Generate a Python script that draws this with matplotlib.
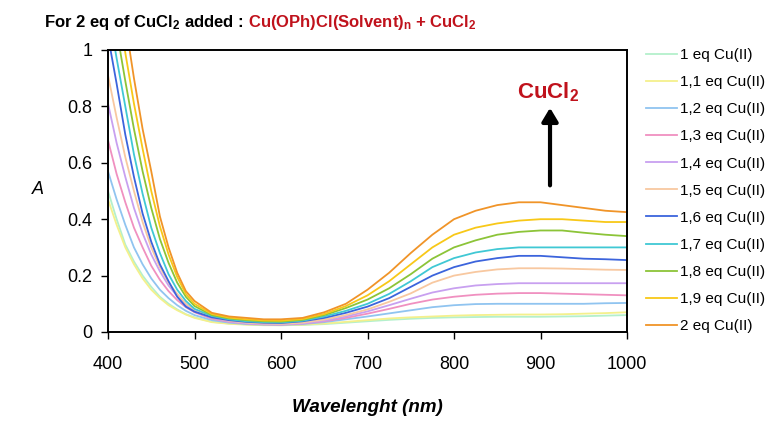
import numpy as np
import matplotlib
matplotlib.use("Agg")
import matplotlib.pyplot as plt

plt.rcParams['font.family'] = ['Liberation Sans', 'DejaVu Sans']
plt.rcParams['mathtext.fontset'] = 'custom'
plt.rcParams['mathtext.rm'] = 'Liberation Sans'
plt.rcParams['mathtext.bf'] = 'Liberation Sans:bold'
plt.rcParams['mathtext.it'] = 'Liberation Sans:italic'

# Longueurs d'onde (nm)
wavelength = [400, 410, 420, 430, 440, 450, 460, 470, 480, 490, 500, 520, 540, 560, 580, 600,
              625, 650, 675, 700, 725, 750, 775, 800, 825, 850, 875, 900, 925, 950, 975, 1000]

# Absorbance, une liste par ajout de Cu(II)
A_1_0 = [0.50, 0.40, 0.31, 0.25, 0.20, 0.16, 0.125, 0.10, 0.08, 0.063, 0.052, 0.036, 0.030, 0.027, 0.025, 0.024,
         0.025, 0.028, 0.033, 0.038, 0.043, 0.047, 0.050, 0.052, 0.053, 0.054, 0.054, 0.054, 0.055, 0.056, 0.058, 0.060]
A_1_1 = [0.47, 0.38, 0.30, 0.24, 0.19, 0.15, 0.12, 0.095, 0.077, 0.062, 0.050, 0.035, 0.029, 0.026, 0.024, 0.024,
         0.026, 0.030, 0.036, 0.042, 0.048, 0.052, 0.055, 0.058, 0.060, 0.061, 0.062, 0.062, 0.063, 0.065, 0.067, 0.070]
A_1_2 = [0.57, 0.47, 0.38, 0.30, 0.24, 0.19, 0.15, 0.12, 0.095, 0.075, 0.060, 0.042, 0.033, 0.028, 0.026, 0.025,
         0.028, 0.035, 0.045, 0.055, 0.066, 0.077, 0.088, 0.095, 0.099, 0.100, 0.100, 0.100, 0.100, 0.100, 0.102, 0.103]
A_1_3 = [0.68, 0.56, 0.46, 0.37, 0.30, 0.235, 0.185, 0.145, 0.113, 0.088, 0.070, 0.047, 0.036, 0.030, 0.027, 0.026,
         0.030, 0.038, 0.050, 0.065, 0.082, 0.100, 0.115, 0.125, 0.132, 0.136, 0.138, 0.138, 0.136, 0.134, 0.132, 0.130]
A_1_4 = [0.81, 0.67, 0.55, 0.44, 0.35, 0.275, 0.215, 0.165, 0.127, 0.097, 0.076, 0.050, 0.038, 0.031, 0.028, 0.027,
         0.031, 0.040, 0.055, 0.073, 0.095, 0.118, 0.140, 0.155, 0.165, 0.170, 0.173, 0.173, 0.173, 0.173, 0.173, 0.173]
A_1_5 = [0.91, 0.76, 0.62, 0.50, 0.39, 0.30, 0.23, 0.175, 0.135, 0.10, 0.080, 0.053, 0.040, 0.033, 0.030, 0.029,
         0.033, 0.044, 0.060, 0.080, 0.107, 0.137, 0.175, 0.200, 0.213, 0.222, 0.226, 0.226, 0.225, 0.223, 0.221, 0.220]
A_1_6 = [1.05, 0.88, 0.70, 0.55, 0.42, 0.32, 0.24, 0.18, 0.125, 0.09, 0.072, 0.052, 0.042, 0.036, 0.033, 0.032,
         0.038, 0.050, 0.068, 0.090, 0.120, 0.160, 0.200, 0.230, 0.250, 0.262, 0.270, 0.270, 0.265, 0.260, 0.258, 0.255]
A_1_7 = [1.15, 0.97, 0.80, 0.63, 0.49, 0.37, 0.28, 0.205, 0.15, 0.11, 0.082, 0.057, 0.045, 0.038, 0.035, 0.034,
         0.040, 0.055, 0.075, 0.100, 0.135, 0.180, 0.230, 0.262, 0.282, 0.294, 0.300, 0.300, 0.300, 0.300, 0.300, 0.300]
A_1_8 = [1.25, 1.07, 0.89, 0.72, 0.57, 0.44, 0.33, 0.245, 0.175, 0.125, 0.092, 0.060, 0.048, 0.042, 0.038, 0.037,
         0.043, 0.060, 0.085, 0.115, 0.155, 0.205, 0.260, 0.300, 0.325, 0.345, 0.355, 0.360, 0.360, 0.352, 0.345, 0.340]
A_1_9 = [1.38, 1.18, 0.99, 0.81, 0.65, 0.50, 0.375, 0.275, 0.195, 0.135, 0.100, 0.064, 0.051, 0.045, 0.041, 0.040,
         0.046, 0.064, 0.092, 0.130, 0.180, 0.240, 0.300, 0.345, 0.370, 0.385, 0.395, 0.400, 0.400, 0.395, 0.390, 0.390]
A_2_0 = [1.50, 1.30, 1.10, 0.90, 0.72, 0.57, 0.41, 0.30, 0.21, 0.145, 0.110, 0.068, 0.055, 0.050, 0.045, 0.045,
         0.050, 0.070, 0.100, 0.150, 0.210, 0.280, 0.345, 0.400, 0.430, 0.450, 0.460, 0.460, 0.450, 0.440, 0.430, 0.425]

series = [A_1_0, A_1_1, A_1_2, A_1_3, A_1_4, A_1_5, A_1_6, A_1_7, A_1_8, A_1_9, A_2_0]
labels = ["1 eq Cu(II)", "1,1 eq Cu(II)", "1,2 eq Cu(II)", "1,3 eq Cu(II)", "1,4 eq Cu(II)",
          "1,5 eq Cu(II)", "1,6 eq Cu(II)", "1,7 eq Cu(II)", "1,8 eq Cu(II)", "1,9 eq Cu(II)",
          "2 eq Cu(II)"]
colors = ['#b4f0cc', '#f4f08c', '#90c4f0', '#f090c0', '#c8a0f0', '#f8c8a0',
          '#3c64dc', '#40c8d4', '#8cc438', '#f8c818', '#f09428']

red = '#c0121c'

fig = plt.figure(figsize=(7.71, 4.21), dpi=100)
ax = fig.add_axes([108 / 771, 89 / 421, 519 / 771, 282 / 421])

for vals, lab, col in zip(series, labels, colors):
    ax.plot(wavelength, vals, color=col, lw=1.3, label=lab)

ax.set_xlim(400, 1000)
ax.set_ylim(0, 1)
ax.set_xticks([400, 500, 600, 700, 800, 900, 1000])
ax.set_yticks([0, 0.2, 0.4, 0.6, 0.8, 1])
ax.set_yticklabels(["0", "0.2", "0.4", "0.6", "0.8", "1"])
ax.tick_params(direction='out', length=5, width=1, labelsize=13, pad=6)
ax.tick_params(axis='x', pad=12)
for sp in ax.spines.values():
    sp.set_linewidth(1.4)

ax.set_xlabel("Wavelenght (nm)", fontsize=13.5, fontweight='bold', style='italic', labelpad=19)
fig.text(38 / 771, 1 - 190 / 421, "A", fontsize=13, style='italic', ha='center', va='center')

# titre en deux couleurs
fig.text(244 / 771, 1 - 22 / 421, r"For 2 eq of CuCl$_\mathbf{2}$ added :", fontsize=12,
         fontweight='bold', ha='right', va='center')
fig.text(248 / 771, 1 - 22 / 421, r"Cu(OPh)Cl(Solvent)$_\mathbf{n}$ + CuCl$_\mathbf{2}$", fontsize=12,
         fontweight='bold', color=red, ha='left', va='center')

# fleche CuCl2
ax.annotate("", xy=(911, 0.795), xytext=(911, 0.52),
            arrowprops=dict(arrowstyle='-|>,head_length=0.5,head_width=0.3', lw=3, color='black',
                            mutation_scale=16, shrinkA=0, shrinkB=0))
ax.text(909, 0.85, r"CuCl$_\mathbf{2}$", fontsize=16, fontweight='bold', color=red,
        ha='center', va='center')

ax.legend(loc='upper left', bbox_to_anchor=(646 / 771, 1 - 48 / 421), bbox_transform=fig.transFigure,
          frameon=False, fontsize=11, handlelength=2.0, handletextpad=0.2, labelspacing=0.86,
          borderpad=0, borderaxespad=0)

fig.savefig("out.png", dpi=100)
